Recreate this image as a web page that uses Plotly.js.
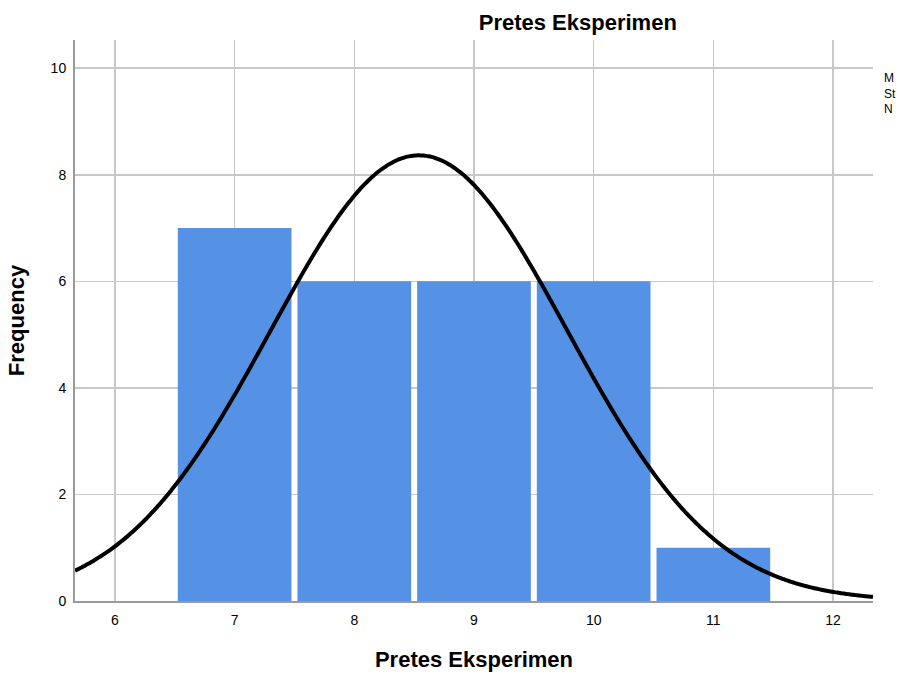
<!DOCTYPE html>
<html>
<head>
<meta charset="utf-8">
<script src="https://cdn.plot.ly/plotly-3.0.1.min.js"></script>
<style>html,body{margin:0;padding:0;background:#fff;}#chart{width:900px;height:674px;}</style>
</head>
<body>
<div id="chart"></div>
<script>
// Histogram data
const scores = [7, 8, 9, 10, 11];
const frequency = [7, 6, 6, 6, 1];
// Normal curve parameters (from the histogram)
const meanValue = 8.54;
const sdValue = 1.24;
const nValue = 26;
const binWidth = 1;
const curveRange = [5.666, 12.334];
const xTicks = [6, 7, 8, 9, 10, 11, 12];
const yTicks = [0, 2, 4, 6, 8, 10];
const legendLabels = ['M', 'St', 'N'];

const curveX = [], curveY = [];
const steps = 300;
for (let i = 0; i <= steps; i++) {
  const x = curveRange[0] + (curveRange[1] - curveRange[0]) * i / steps;
  const z = (x - meanValue) / sdValue;
  curveX.push(x);
  curveY.push(nValue * binWidth / (sdValue * Math.sqrt(2 * Math.PI)) * Math.exp(-0.5 * z * z));
}

const traces = [
  {type: 'bar', x: scores, y: frequency, width: 0.95,
   marker: {color: '#5592E5', line: {width: 0}}, hoverinfo: 'x+y'},
  {type: 'scatter', mode: 'lines', x: curveX, y: curveY,
   line: {color: '#000000', width: 4, shape: 'spline'}, hoverinfo: 'skip'}
];

const layout = {
  width: 900, height: 674,
  margin: {l: 75, r: 27, t: 40, b: 73},
  paper_bgcolor: '#ffffff', plot_bgcolor: '#ffffff',
  showlegend: false,
  font: {family: 'Arial, Liberation Sans, sans-serif', color: '#000'},
  title: {text: '<b>Pretes Eksperimen</b>', font: {size: 22, color: '#000'},
          x: 0.642, xref: 'container', xanchor: 'center', y: 0.967, yref: 'container', yanchor: 'middle'},
  xaxis: {range: curveRange, tickvals: xTicks, ticktext: xTicks.map(String),
          showgrid: true, gridcolor: '#c8c8c8', gridwidth: 1.5,
          zeroline: false, showline: true, linecolor: '#9a9a9a', linewidth: 2,
          ticks: '', tickfont: {size: 14}, ticklabelstandoff: 5,
          title: {text: '<b>Pretes Eksperimen</b>', font: {size: 22}, standoff: 25}},
  yaxis: {range: [0, 10.53], tickvals: yTicks, ticktext: yTicks.map(String),
          showgrid: true, gridcolor: '#c8c8c8', gridwidth: 1.5,
          zeroline: false, showline: true, linecolor: '#9a9a9a', linewidth: 2,
          ticks: '', tickfont: {size: 14}, ticklabelstandoff: 4,
          title: {text: '<b>Frequency</b>', font: {size: 22}, standoff: 20}},
  annotations: [{
    text: legendLabels.join('<br>'), xref: 'paper', yref: 'paper', x: 1.011, y: 0.949,
    xanchor: 'left', yanchor: 'top', align: 'left', showarrow: false, font: {size: 12}
  }]
};

Plotly.newPlot('chart', traces, layout, {displayModeBar: false, staticPlot: true});
</script>
</body>
</html>
